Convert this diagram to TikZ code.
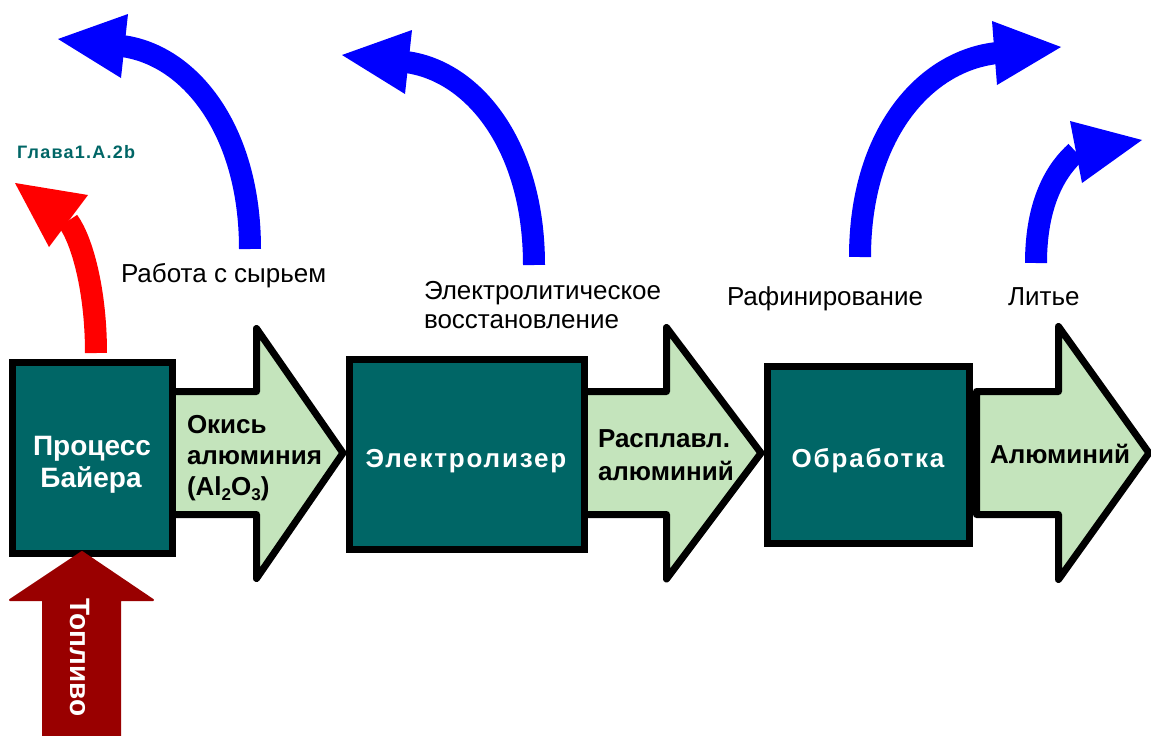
\documentclass[tikz,border=0pt]{standalone}
\usepackage{fontspec}
\setmainfont{Liberation Sans}
\newfontfamily\spacedfont[LetterSpace=7]{Liberation Sans}
\definecolor{boxteal}{RGB}{0,102,102}
\definecolor{lightgreen}{RGB}{196,228,188}
\definecolor{fuelred}{RGB}{153,0,0}
\definecolor{pureblue}{RGB}{0,0,255}
\definecolor{purered}{RGB}{255,0,0}
\newcommand{\subdigit}[1]{\raisebox{-5pt}{\fontsize{17}{17}\selectfont #1}}
\begin{document}
\begin{tikzpicture}[x=1pt,y=-1pt,
  txt/.style={inner sep=0pt, outer sep=0pt, anchor=base west},
  boxtxt/.style={txt, text=white, font=\spacedfont\bfseries\fontsize{26}{31}\selectfont},
  bayertxt/.style={txt, text=white, font=\bfseries\fontsize{28}{32}\selectfont},
  flowtxt/.style={txt, text=black, font=\bfseries\fontsize{26}{31}\selectfont},
  steptxt/.style={txt, text=black, font=\fontsize{26}{30}\selectfont},
  procbox/.style={draw=black, line width=7pt, fill=boxteal, inner sep=0pt},
  garrow/.style={draw=black, line width=7pt, line join=round, fill=lightgreen},
  blueshaft/.style={draw=pureblue, line width=22pt},
  redshaft/.style={draw=purered, line width=22pt},
  fuelarrow/.style={fill=fuelred, draw=fuelred, line width=2pt, line join=round}]
\useasboundingbox (0,0) rectangle (1151,736);
\clip (0,0) rectangle (1151,736);
\fill[white] (0,0) rectangle (1151,736);

% green flow arrows
\draw[garrow] (150,391.5) -- (256.5,391.5) -- (256.5,328.5) -- (343,453) -- (256.5,578.5) -- (256.5,514.5) -- (150,514.5) -- cycle;
\draw[garrow] (570,391.5) -- (666.5,391.5) -- (666.5,327.5) -- (761,453) -- (666.5,579) -- (666.5,514.5) -- (570,514.5) -- cycle;
\draw[garrow] (976.5,391.5) -- (1058.5,391.5) -- (1058.5,326.5) -- (1149,453) -- (1058.5,579.5) -- (1058.5,514.5) -- (976.5,514.5) -- cycle;

% process boxes
\node[procbox, minimum width=160pt, minimum height=191pt] (bayer) at (92.5,458) {};
\node[procbox, minimum width=235pt, minimum height=190pt] (elec) at (467,454.5) {};
\node[procbox, minimum width=202pt, minimum height=177pt] (treat) at (868.5,455) {};

% box texts
\node[bayertxt, anchor=base] (bayer1) at (92,455) {Процесс};
\node[bayertxt, anchor=base] (bayer2) at (91,487) {Байера};
\node[boxtxt, anchor=base] (electxt) at (466,467) {Электролизер};
\node[boxtxt, anchor=base] (treattxt) at (868,467) {Обработка};

% flow texts
\node[flowtxt] (ox1) at (187,433) {Окись};
\node[flowtxt] (ox2) at (187,464) {алюминия};
\node[flowtxt] (ox3) at (187,495) {(Al\subdigit{2}O\subdigit{3})};
\node[flowtxt] (melt1) at (598,447) {Расплавл.};
\node[flowtxt] (melt2) at (598,480) {алюминий};
\node[flowtxt] (alu) at (990,463) {Алюминий};

% step labels
\node[steptxt] (raw) at (121,282) {Работа с сырьем};
\node[steptxt] (electro1) at (424,299) {Электролитическое};
\node[steptxt] (electro2) at (424,328) {восстановление};
\node[steptxt] (refine) at (727,305) {Рафинирование};
\node[steptxt] (cast) at (1008,305) {Литье};
\node[txt, text=boxteal, font=\spacedfont\bfseries\fontsize{18}{20}\selectfont] (chapter) at (17,158) {Глава1.A.2b};

% blue curved arrows
\draw[blueshaft] (250,249) .. controls (250,130) and (190,55) .. (122,46);
\fill[pureblue] (58,39) -- (128,14) -- (121,78) -- cycle;
\begin{scope}[shift={(284,16)}]
\draw[blueshaft] (250,249) .. controls (250,130) and (190,55) .. (122,46);
\fill[pureblue] (58,39) -- (128,14) -- (121,78) -- cycle;
\end{scope}
\draw[blueshaft] (860,257) .. controls (860,135) and (924,61) .. (997,53);
\fill[pureblue] (1061,47) -- (992,21) -- (997,85) -- cycle;
\draw[blueshaft] (1036,263) .. controls (1036,200) and (1058,168) .. (1076,152);
\fill[pureblue] (1142,140) -- (1070,121) -- (1082,183) -- cycle;

% red curved arrow
\draw[redshaft] (96,353) .. controls (96,290) and (82,240) .. (68,221);
\fill[purered] (15,183) -- (88,195) -- (49,247) -- cycle;

% fuel arrow
\filldraw[fuelarrow] (43,745) -- (43,600) -- (10,600) -- (82,552) -- (153,600) -- (120,600) -- (120,745) -- cycle;
\node[txt, rotate=-90, text=white, font=\bfseries\fontsize{28}{32}\selectfont] (fuel) at (70,598) {Топливо};
\end{tikzpicture}
\end{document}
